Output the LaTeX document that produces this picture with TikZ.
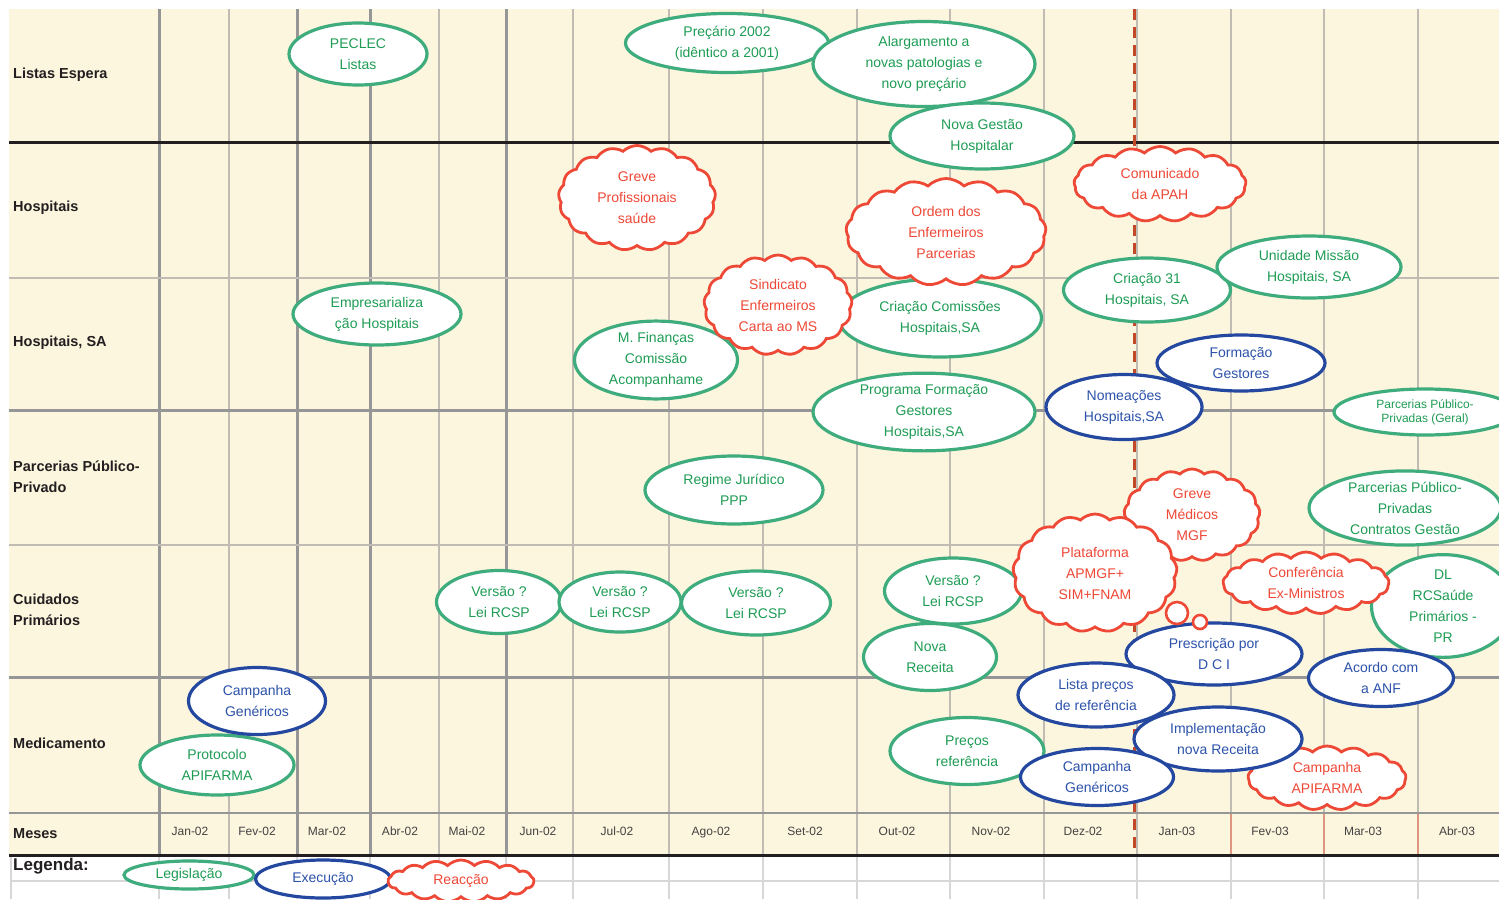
\documentclass[tikz,border=0pt]{standalone}
\usepackage{fontspec}
\setmainfont{Liberation Sans}
\usetikzlibrary{shapes.geometric,shapes.symbols}
\definecolor{cream}{RGB}{252,246,222}
\definecolor{legisline}{RGB}{62,172,124}
\definecolor{legistext}{RGB}{30,156,84}
\definecolor{execline}{RGB}{36,72,160}
\definecolor{exectext}{RGB}{44,82,170}
\definecolor{reacline}{RGB}{238,72,54}
\definecolor{gridthick}{RGB}{150,150,150}
\definecolor{gridthin}{RGB}{192,188,180}
\definecolor{gridlight}{RGB}{215,215,215}
\definecolor{gridred}{RGB}{222,150,128}
\definecolor{cutred}{RGB}{196,72,40}
\definecolor{labelink}{RGB}{35,31,32}
\tikzset{
  ellbase/.style={ellipse,fill=white,line width=3.2bp,align=center,inner sep=0pt,
    font=\fontsize{14bp}{21bp}\selectfont},
  legis/.style={ellbase,draw=legisline,text=legistext},
  exec/.style={ellbase,draw=execline,text=exectext},
  reac/.style={cloud,cloud puffs=17,cloud puff arc=90,cloud ignores aspect,fill=white,
    draw=reacline,text=reacline,line width=2.8bp,align=center,inner sep=0pt,inner ysep=-4bp,
    font=\fontsize{14bp}{21bp}\selectfont},
  bubble/.style={circle,draw=reacline,fill=white,line width=2.6bp,inner sep=0pt},
  rowlabel/.style={anchor=west,align=left,inner xsep=0pt,text=labelink,
    font=\fontsize{14.5bp}{21bp}\selectfont\bfseries},
  month/.style={anchor=base,text=labelink!85,font=\fontsize{12bp}{14bp}\selectfont},
  thickgrid/.style={gridthick,line width=3bp},
  thingrid/.style={gridthin,line width=1.3bp},
  blackrule/.style={labelink,line width=3bp}
}
\begin{document}
\begin{tikzpicture}[x=1bp,y=-1bp]
\clip (0,0) rectangle (1499,899);
\fill[white] (0,0) rectangle (1499,899);
\fill[cream] (9,9) rectangle (1499,855);
\foreach \x in {229,439,573,669,763,857,950,1044,1137,1231,1324,1418}
  \draw[thingrid] (\x,9) -- (\x,813);
\foreach \x in {229,439,573,669,763,857,950,1044,1137}
  \draw[thingrid] (\x,813) -- (\x,855);
\foreach \x in {1231,1324,1418}
  \draw[gridred,line width=1.3bp] (\x,813) -- (\x,855);
\foreach \x in {11,159,229,297,370,439,506,573,669,763,857,950,1044,1137,1231,1324,1418}
  \draw[gridlight,line width=1.5bp] (\x,855) -- (\x,899);
\draw[gridlight,line width=1.5bp] (11,881) -- (1499,881);
\foreach \x in {159,297,370,506}
  \draw[thickgrid] (\x,9) -- (\x,855);
\draw[thingrid] (9,278) -- (1499,278);
\draw[thingrid] (9,545) -- (1499,545);
\draw[thickgrid] (9,410) -- (1499,410);
\draw[thickgrid] (9,677) -- (1499,677);
\draw[gridthick,line width=2bp] (9,813) -- (1499,813);
\draw[blackrule] (9,142) -- (1499,142);
\draw[blackrule] (9,855) -- (1499,855);
\draw[cutred,line width=3bp,dash pattern=on 11bp off 7bp] (1134,9) -- (1134,855);

\node[rowlabel] (listas) at (13,75) {Listas Espera};
\node[rowlabel] (hosp) at (13,208) {Hospitais};
\node[rowlabel] (hospsa) at (13,343) {Hospitais, SA};
\node[rowlabel] (ppp) at (13,477) {Parcerias Público-\\Privado};
\node[rowlabel] (cuidados) at (13,610) {Cuidados\\Primários};
\node[rowlabel] (medic) at (13,743) {Medicamento};
\node[rowlabel] (meses) at (13,834) {Meses};
\foreach \x/\m [count=\i] in {190/Jan-02,257/Fev-02,327/Mar-02,400/Abr-02,467/Mai-02,538/Jun-02,
    617/Jul-02,711/Ago-02,805/Set-02,897/Out-02,991/Nov-02,1083/Dez-02,1177/Jan-03,1270/Fev-03,
    1363/Mar-03,1457/Abr-03}
  \node[month] (mes\i) at (\x,835) {\m};

\node[legis,minimum width=138bp,minimum height=62bp] (peclec) at (358,54) {PECLEC\\Listas};
\node[legis,minimum width=203bp,minimum height=59bp] (precario) at (727,43) {Preçário 2002\\(idêntico a 2001)};
\node[legis,minimum width=222bp,minimum height=85bp] (alarg) at (924,64) {Alargamento a\\novas patologias e\\novo preçário};
\node[legis,minimum width=184bp,minimum height=66bp] (novagestao) at (982,136) {Nova Gestão\\Hospitalar};
\node[legis,minimum width=168bp,minimum height=62bp] (empresa) at (377,314) {Empresarializa\\ção Hospitais};
\node[legis,minimum width=163bp,minimum height=74bp] (financas) at (656,360) {M. Finanças\\Comissão\\Acompanhame};
\node[legis,minimum width=203bp,minimum height=78bp] (comissoes) at (940,318) {Criação Comissões\\Hospitais,SA};
\node[legis,minimum width=222bp,minimum height=75bp] (programa) at (924,412) {Programa Formação\\Gestores\\Hospitais,SA};
\node[legis,minimum width=178bp,minimum height=68bp] (regime) at (734,490) {Regime Jurídico\\PPP};
\node[legis,minimum width=125bp,minimum height=63bp] (versaoa) at (499,602) {Versão ?\\Lei RCSP};
\node[legis,minimum width=122bp,minimum height=60bp] (versaob) at (620,602) {Versão ?\\Lei RCSP};
\node[legis,minimum width=149bp,minimum height=64bp] (versaoc) at (756,603) {Versão ?\\Lei RCSP};
\node[legis,minimum width=137bp,minimum height=66bp] (versaod) at (953,591) {Versão ?\\Lei RCSP};
\node[legis,minimum width=133bp,minimum height=67bp] (novareceita) at (930,657) {Nova\\Receita};
\node[legis,minimum width=154bp,minimum height=67bp] (precos) at (967,751) {Preços\\referência};
\node[legis,minimum width=154bp,minimum height=60bp] (protocolo) at (217,765) {Protocolo\\APIFARMA};
\node[legis,minimum width=167bp,minimum height=64bp] (criacao) at (1147,290) {Criação 31\\Hospitais, SA};
\node[legis,minimum width=184bp,minimum height=62bp] (unidade) at (1309,267) {Unidade Missão\\Hospitais, SA};
\node[legis,minimum width=182bp,minimum height=46bp,font=\fontsize{12bp}{14bp}\selectfont] (pppgeral) at (1425,412) {Parcerias Público-\\Privadas (Geral)};
\node[legis,minimum width=192bp,minimum height=72bp] (pppcontratos) at (1405,508) {Parcerias Público-\\Privadas\\Contratos Gestão};
\node[legis,minimum width=143bp,minimum height=94bp] (dl) at (1443,606) {DL\\RCSaúde\\Primários -\\PR};

\node[reac,minimum width=157bp,minimum height=105bp] (greveprof) at (637,198) {Greve\\Profissionais\\saúde};
\node[reac,minimum width=200bp,minimum height=107bp] (ordem) at (946,232) {Ordem dos\\Enfermeiros\\Parcerias};
\node[reac,minimum width=148bp,minimum height=100bp] (sindicato) at (778,305) {Sindicato\\Enfermeiros\\Carta ao MS};
\node[reac,minimum width=172bp,minimum height=75bp] (apah) at (1160,184) {Comunicado\\da APAH};
\node[reac,minimum width=136bp,minimum height=92bp] (grevemed) at (1192,515) {Greve\\Médicos\\MGF};
\node[reac,minimum width=164bp,minimum height=118bp] (plataforma) at (1095,573) {Plataforma\\APMGF+\\SIM+FNAM};
\node[reac,minimum width=166bp,minimum height=62bp] (conferencia) at (1306,583) {Conferência\\Ex-Ministros};

\node[exec,minimum width=137bp,minimum height=67bp] (genericosa) at (257,701) {Campanha\\Genéricos};
\node[exec,minimum width=168bp,minimum height=56bp] (formacao) at (1241,363) {Formação\\Gestores};
\node[exec,minimum width=156bp,minimum height=65bp] (nomeacoes) at (1124,407) {Nomeações\\Hospitais,SA};
\node[exec,minimum width=176bp,minimum height=62bp] (prescricao) at (1214,654) {Prescrição por\\D C I};
\node[bubble,minimum size=22bp] (bolhaa) at (1177,613) {};
\node[bubble,minimum size=14bp] (bolhab) at (1200,622) {};
\node[exec,minimum width=156bp,minimum height=64bp] (listaprecos) at (1096,695) {Lista preços\\de referência};
\node[exec,minimum width=145bp,minimum height=57bp] (anf) at (1381,678) {Acordo com\\a ANF};
\node[reac,minimum width=158bp,minimum height=64bp] (apifarma) at (1327,778) {Campanha\\APIFARMA};
\node[exec,minimum width=168bp,minimum height=64bp] (implementacao) at (1218,739) {Implementação\\nova Receita};
\node[exec,minimum width=153bp,minimum height=57bp] (genericosb) at (1097,777) {Campanha\\Genéricos};

\node[rowlabel,font=\fontsize{17bp}{20bp}\selectfont\bfseries] (legenda) at (13,866) {Legenda:};
\node[legis,minimum width=130bp,minimum height=28bp] (leglegis) at (189,875) {Legislação};
\node[exec,minimum width=135bp,minimum height=38bp] (legexec) at (323,879) {Execução};
\node[reac,minimum width=146bp,minimum height=42bp] (legreac) at (461,881) {Reacção};
\end{tikzpicture}
\end{document}
